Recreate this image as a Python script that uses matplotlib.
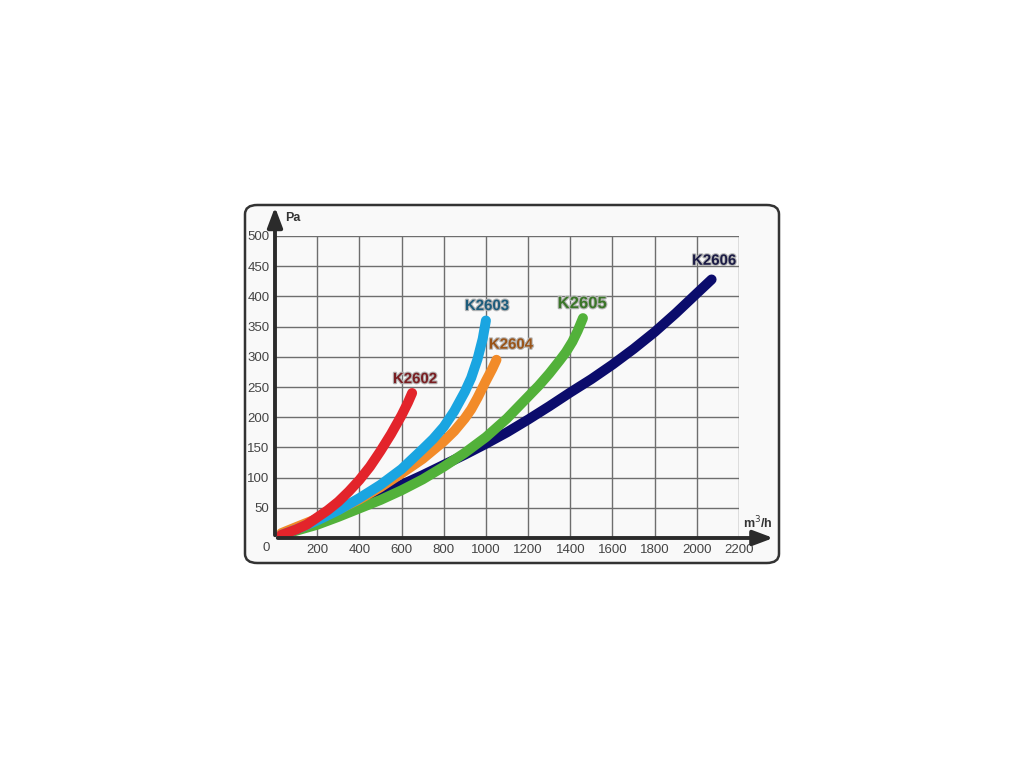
import matplotlib
matplotlib.use("Agg")
import matplotlib.pyplot as plt
from matplotlib.patches import FancyBboxPatch
import matplotlib.patheffects as pe

plt.rcParams["font.family"] = ["Liberation Sans", "DejaVu Sans"]

# -------------------------
# Data
# -------------------------
k2602_x = [30, 100, 150, 200, 250, 300, 350, 400, 450, 500, 550, 600, 630, 650]
k2602_y = [5, 14, 22, 34, 46, 60, 77, 96, 118, 144, 172, 203, 224, 240]

k2603_x = [30, 100, 200, 300, 400, 500, 600, 700, 750, 800, 850, 900, 930, 960,
           985, 1000]
k2603_y = [5, 14, 29, 46, 66, 88, 114, 147, 164, 184, 210, 242, 265, 296, 330, 360]

k2604_x = [30, 100, 200, 300, 400, 500, 600, 700, 800, 850, 900, 930, 960, 1000,
           1030, 1050]
k2604_y = [8, 18, 32, 47, 64, 84, 107, 131, 160, 177, 198, 213, 232, 260, 280, 295]

k2605_x = [30, 100, 200, 300, 400, 500, 600, 700, 800, 900, 1000, 1100, 1200, 1250,
           1300, 1350, 1380, 1410, 1435, 1460]
k2605_y = [5, 12, 22, 35, 49, 63, 79, 97, 118, 141, 167, 198, 234, 252, 272, 294,
           308, 325, 343, 364]

k2606_x = [30, 100, 200, 300, 400, 500, 600, 700, 800, 900, 1000, 1100, 1200, 1300,
           1400, 1500, 1600, 1700, 1800, 1900, 2000, 2070]
k2606_y = [5, 14, 26, 41, 57, 72, 88, 104, 121, 138, 156, 175, 196, 218, 241, 263,
           287, 313, 341, 372, 405, 428]

x_ticks = [200, 400, 600, 800, 1000, 1200, 1400, 1600, 1800, 2000, 2200]
y_ticks = [50, 100, 150, 200, 250, 300, 350, 400, 450, 500]

# drawn back to front: name, x, y, line colour, label colour, label pos, label size
series = [
    ("K2606", k2606_x, k2606_y, "#0b0c6c", "#1b1b45", (2082, 459), 10.8),
    ("K2605", k2605_x, k2605_y, "#52b13a", "#3b7629", (1456, 388), 12.0),
    ("K2604", k2604_x, k2604_y, "#f28b29", "#9a5418", (1119, 320), 10.8),
    ("K2603", k2603_x, k2603_y, "#1aa5e1", "#1d5c7c", (1005, 384), 10.8),
    ("K2602", k2602_x, k2602_y, "#e3242b", "#7a1e22", (664, 263), 10.8),
]

W, H = 1024, 768
fig = plt.figure(figsize=(W / 100, H / 100), dpi=100)
fig.patch.set_facecolor("white")

# rounded frame around the chart (behind the axes)
box = FancyBboxPatch((245 / W, 1 - 563 / H), (779 - 245) / W, (563 - 205) / H,
                     boxstyle="round,pad=0,rounding_size=0.012",
                     transform=fig.transFigure, facecolor="#f9f9f9",
                     edgecolor="#333333", linewidth=1.8, zorder=-5)
fig.patches.append(box)

ax = fig.add_axes([275 / W, 1 - 538 / H, 464 / W, 302 / H])
ax.set_zorder(2)
ax.set_facecolor("none")
ax.set_xlim(0, 2200)
ax.set_ylim(0, 500)
for s in ax.spines.values():
    s.set_visible(False)

# grid
for xv in x_ticks:
    ax.axvline(xv, color="#6e6e6e", lw=1.0, zorder=1)
for yv in y_ticks:
    ax.axhline(yv, color="#6e6e6e", lw=1.0, zorder=1)

ax.set_xticks(x_ticks)
ax.set_yticks(y_ticks)
ax.set_xticklabels([str(v) for v in x_ticks])
ax.set_yticklabels([str(v) for v in y_ticks])
ax.tick_params(length=0, labelsize=9.5, labelcolor="#444444")
ax.tick_params(axis="x", pad=4)
ax.tick_params(axis="y", pad=4)
ax.text(-9 / 464, -4 / 302, "0", transform=ax.transAxes, ha="center", va="top",
        fontsize=9.5, color="#444444")

# curves
for name, xs, ys, col, tcol, (lx, ly), fs in series:
    ax.plot(xs, ys, color=col, lw=7.2, solid_capstyle="round",
            solid_joinstyle="round", zorder=3)
    ax.text(lx, ly, name, color=tcol, fontsize=fs, fontweight="bold",
            ha="center", va="center", zorder=4,
            path_effects=[pe.withStroke(linewidth=1.6, foreground="#b5b5b5")])

# axis arrows
ax.annotate("", xy=(0, 1.105), xytext=(0, 0), xycoords="axes fraction",
            arrowprops=dict(arrowstyle="-|>,head_length=1.2,head_width=0.45",
                            color="#2b2b2b", lw=2.8), annotation_clip=False, zorder=5)
ax.annotate("", xy=(1.08, 0), xytext=(0, 0), xycoords="axes fraction",
            arrowprops=dict(arrowstyle="-|>,head_length=1.2,head_width=0.45",
                            color="#2b2b2b", lw=2.8), annotation_clip=False, zorder=5)

ax.text(0.022, 1.06, "Pa", transform=ax.transAxes, fontsize=9,
        fontweight="bold", color="#333333", ha="left", va="center")
ax.text(1.04, 0.05, "m$^3$/h", transform=ax.transAxes, fontsize=9,
        fontweight="bold", color="#333333", ha="center", va="center")

fig.savefig("out.png", dpi=100, facecolor="white")
